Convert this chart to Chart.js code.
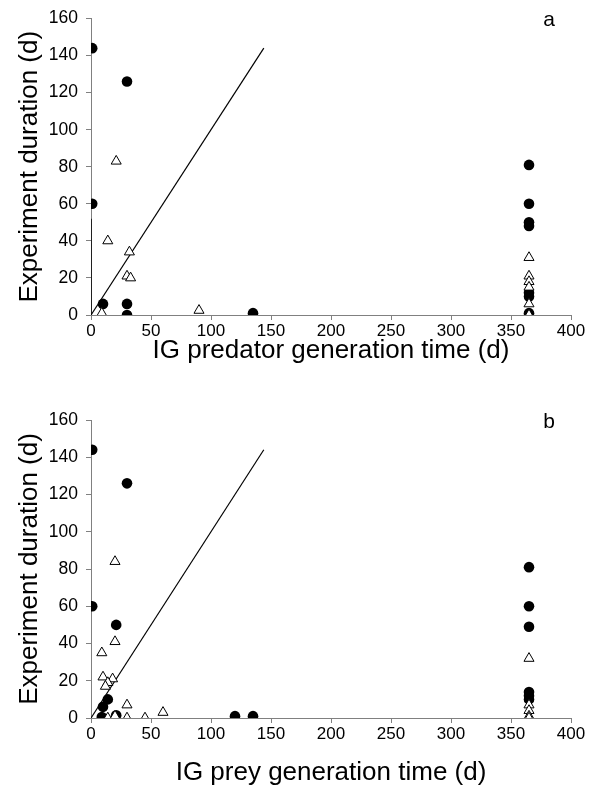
<!DOCTYPE html>
<html>
<head>
<meta charset="utf-8">
<script src="https://cdn.jsdelivr.net/npm/chart.js@4.4.0/dist/chart.umd.min.js"></script>
<style>
  body { margin: 0; background: #fff; }
  .panel { position: absolute; left: 0; width: 592px; }
  #wrapA { top: 0; height: 395px; }
  #wrapB { top: 395px; height: 396px; }
</style>
</head>
<body>
<div class="panel" id="wrapA"><canvas id="chartA" width="592" height="395"></canvas></div>
<div class="panel" id="wrapB"><canvas id="chartB" width="592" height="396"></canvas></div>
<script>
// Panel a: IG predator generation time
const predCircleX = [1, 1, 30, 10, 30, 30, 135, 365, 365, 365, 365, 365, 365, 365];
const predCircleY = [144, 60, 126, 6, 6, 0, 1, 81, 60, 50, 48, 12, 10, 1];
const predTriX = [21, 14, 32, 30, 33, 9, 90, 365, 365, 365, 365, 365, 365];
const predTriY = [83, 40, 34, 21, 20, 1, 2.5, 31, 21, 18, 15, 6, 0];

// Panel b: IG prey generation time
const preyCircleX = [1, 30, 1, 21, 14, 10, 9, 21, 120, 135, 365, 365, 365, 365, 365, 365];
const preyCircleY = [144, 126, 60, 50, 10, 6, 0.5, 1.5, 1, 1, 81, 60, 49, 14, 12, 10];
const preyTriX = [20, 20, 9, 10, 18, 14, 12, 30, 60, 14, 20, 30, 45, 365, 365, 365, 365, 365];
const preyTriY = [84, 41, 35, 22, 21, 19, 17, 7, 3, 0, 1, 0, 0, 32, 7, 4, 1, 0];

// 1:1 line and axis ticks
const oneToOneX = [0, 144];
const oneToOneY = [0, 144];
const xTickStep = 50, xMax = 400;
const yTickStep = 20, yMax = 160;

const FONT = "'Liberation Sans', Arial, sans-serif";

function toPoints(xs, ys) {
  return xs.map((x, i) => ({ x: x, y: ys[i] }));
}

function buildDatasets(cx, cy, tx, ty, extraLine) {
  const sets = [
    {
      data: toPoints(tx, ty),
      pointStyle: 'triangle',
      pointRadius: 5.8,
      backgroundColor: '#fff',
      borderColor: '#000',
      borderWidth: 1
    },
    {
      data: toPoints(cx, cy),
      pointStyle: 'circle',
      pointRadius: 5.3,
      backgroundColor: '#000',
      borderColor: '#000',
      borderWidth: 0
    },
    {
      data: toPoints(oneToOneX, oneToOneY),
      showLine: true,
      pointRadius: 0,
      borderColor: '#000',
      borderWidth: 1.2
    }
  ];
  if (extraLine) {
    sets.push({
      data: toPoints(extraLine[0], extraLine[1]),
      showLine: true,
      pointRadius: 0,
      borderColor: '#000',
      borderWidth: 1.5
    });
  }
  return sets;
}

// panel letter in the top right corner
const letterPlugin = {
  id: 'panelLetter',
  afterDraw(chart, args, opts) {
    const ctx = chart.ctx;
    ctx.save();
    ctx.font = '21px ' + FONT;
    ctx.fillStyle = '#000';
    ctx.textAlign = 'center';
    ctx.textBaseline = 'middle';
    ctx.fillText(opts.text, chart.chartArea.right - 22, chart.chartArea.top + 2);
    ctx.restore();
  }
};

function makeChart(id, title, letter, datasets, top, bottomSpace, titlePad) {
  return new Chart(document.getElementById(id), {
    type: 'scatter',
    data: { datasets: datasets },
    options: {
      responsive: false,
      animation: false,
      layout: { padding: { top: top, right: 21, left: 0, bottom: 0 } },
      plugins: {
        legend: { display: false },
        tooltip: { enabled: false },
        panelLetter: { text: letter }
      },
      scales: {
        x: {
          type: 'linear',
          min: 0,
          max: xMax,
          ticks: { stepSize: xTickStep, color: '#000', font: { family: FONT, size: 17 }, padding: 1, maxRotation: 0 },
          grid: { drawOnChartArea: false, drawTicks: true, tickLength: 5, color: '#808080' },
          border: { display: true, color: '#808080', width: 1 },
          title: { display: true, text: title, color: '#000', font: { family: FONT, size: 26 }, padding: { top: 0, bottom: titlePad } },
          afterFit(scale) { scale.height = bottomSpace; }
        },
        y: {
          type: 'linear',
          min: 0,
          max: yMax,
          ticks: { stepSize: yTickStep, color: '#000', font: { family: FONT, size: 17.5 }, padding: 8 },
          grid: { drawOnChartArea: false, drawTicks: true, tickLength: 5, color: '#808080' },
          border: { display: true, color: '#808080', width: 1 },
          title: { display: true, text: 'Experiment duration (d)', color: '#000', font: { family: FONT, size: 26 }, padding: { top: 14, bottom: 0 } },
          afterFit(scale) { scale.width = 91; }
        }
      }
    },
    plugins: [letterPlugin]
  });
}

makeChart('chartA', 'IG predator generation time (d)', 'a',
  buildDatasets(predCircleX, predCircleY, predTriX, predTriY, [[0, 0], [0, 52]]), 17, 80, 29);
makeChart('chartB', 'IG prey generation time (d)', 'b',
  buildDatasets(preyCircleX, preyCircleY, preyTriX, preyTriY, null), 25, 73, 3);
</script>
</body>
</html>
